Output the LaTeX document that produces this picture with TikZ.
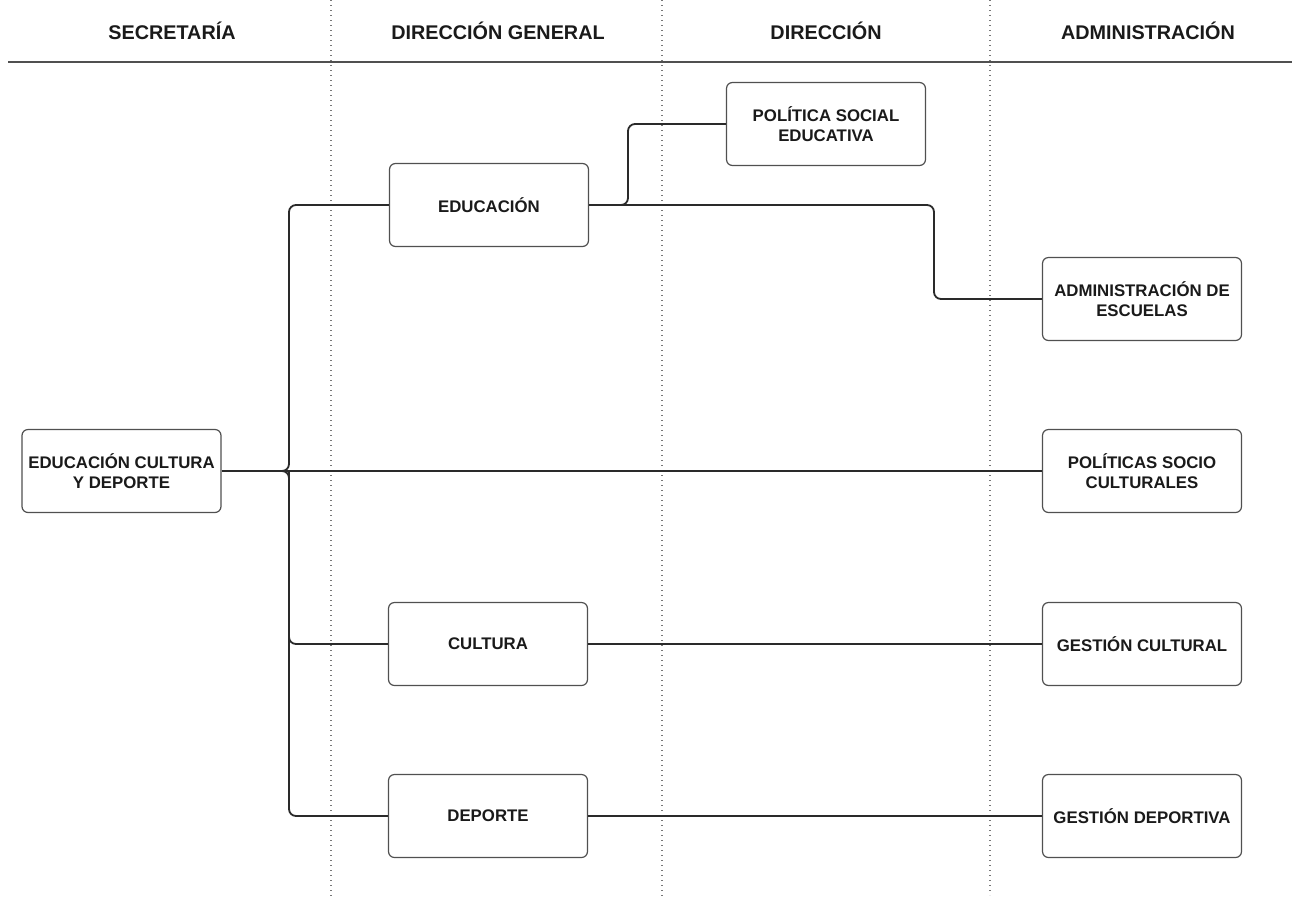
\documentclass[tikz,border=0pt]{standalone}
\usepackage{fontspec}
\setmainfont{Liberation Sans}
\begin{document}
\begin{tikzpicture}[x=1pt,y=-1pt,
  box/.style={draw=boxc, line width=1.2pt, rounded corners=6pt, fill=white,
    minimum width=199pt, minimum height=83pt, inner sep=0pt, align=center,
    text=txt, font=\bfseries\fontsize{16.8}{20}\selectfont},
  hdr/.style={text=txt, font=\bfseries\fontsize{19.8}{23}\selectfont},
  conn/.style={draw=linec, line width=1.8pt, rounded corners=7pt},
  lane/.style={draw=dotc, line width=1.1pt, dash pattern=on 1.2pt off 3.8pt}]
\definecolor{boxc}{HTML}{505050}
\definecolor{txt}{HTML}{1A1A1A}
\definecolor{linec}{HTML}{2A2A2A}
\definecolor{dotc}{HTML}{777777}
\useasboundingbox[fill=white] (0,0) rectangle (1292,898);
% lanes
\draw[lane] (331,0) -- (331,898);
\draw[lane] (662,0) -- (662,898);
\draw[lane] (990,0) -- (990,895);
\draw[draw=boxc, line width=1.8pt] (8,62) -- (1292,62);
% headers
\node[hdr] (h1) at (172,31) {SECRETARÍA};
\node[hdr] (h2) at (498,31) {DIRECCIÓN GENERAL};
\node[hdr] (h3) at (826,31) {DIRECCIÓN};
\node[hdr] (h4) at (1148,31) {ADMINISTRACIÓN};
% boxes
\node[box] (ecd) at (121.5,471) {EDUCACIÓN CULTURA\\Y DEPORTE};
\node[box] (edu) at (489,205) {EDUCACIÓN};
\node[box] (pse) at (826,124) {POLÍTICA SOCIAL\\EDUCATIVA};
\node[box] (adm) at (1142,299) {ADMINISTRACIÓN DE\\ESCUELAS};
\node[box] (pol) at (1142,471) {POLÍTICAS SOCIO\\CULTURALES};
\node[box] (cul) at (488,644) {CULTURA};
\node[box] (gc) at (1142,644) {GESTIÓN CULTURAL};
\node[box] (dep) at (488,816) {DEPORTE};
\node[box] (gd) at (1142,816) {GESTIÓN DEPORTIVA};
% connector points
\coordinate (tx) at (289,471);
\coordinate (tip) at (282,471);
\coordinate (ak) at (934,205);
\coordinate (pt) at (621,205);
\coordinate (pk) at (628,205);
% connectors
\draw[conn] (ecd.east) -- (pol.west);
\draw[conn] (edu.west) -| (tx) -- (tip);
\draw[conn] (tip) -- (tx) |- (dep.west);
\draw[conn] (tx) |- (cul.west);
\draw[conn] (edu.east) -- (ak) |- (adm.west);
\draw[conn] (pt) -- (pk) |- (pse.west);
\draw[conn] (cul.east) -- (gc.west);
\draw[conn] (dep.east) -- (gd.west);
\end{tikzpicture}
\end{document}
